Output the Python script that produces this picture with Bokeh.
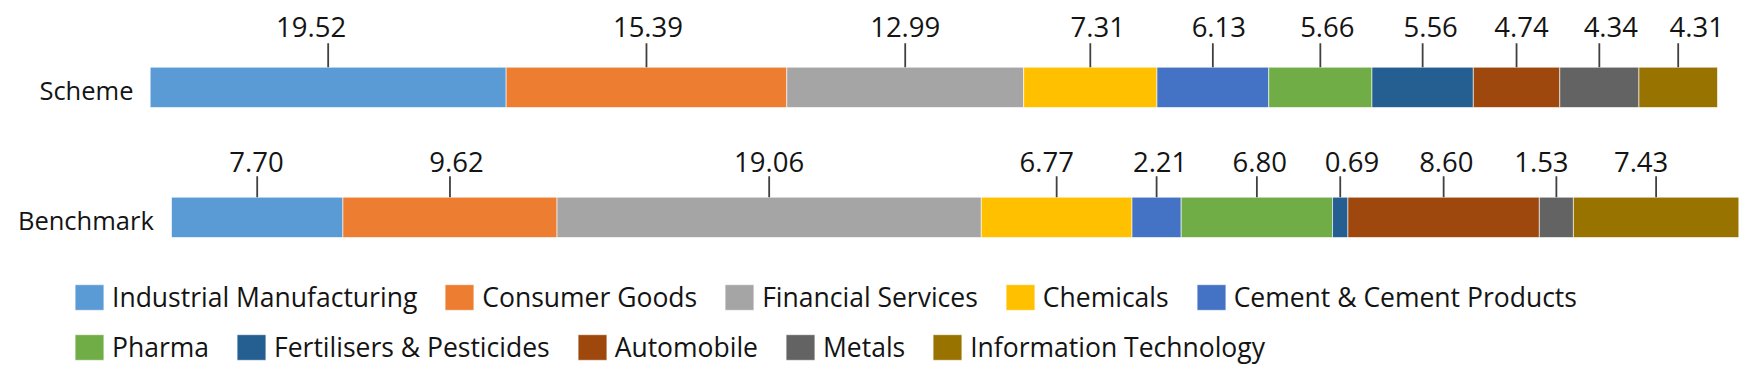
from bokeh.plotting import figure
from bokeh.models import ColumnDataSource, Range1d, Legend, LegendItem
from bokeh.core.properties import value
from bokeh.embed import file_html
from bokeh.resources import INLINE

# ---------------- data ----------------
sectors = ["Industrial Manufacturing", "Consumer Goods", "Financial Services", "Chemicals",
           "Cement & Cement Products", "Pharma", "Fertilisers & Pesticides", "Automobile",
           "Metals", "Information Technology"]
scheme_values = [19.52, 15.39, 12.99, 7.31, 6.13, 5.66, 5.56, 4.74, 4.34, 4.31]
benchmark_values = [7.70, 9.62, 19.06, 6.77, 2.21, 6.80, 0.69, 8.60, 1.53, 7.43]
groups = ["Scheme", "Benchmark"]
colors = ["#5B9BD5", "#ED7D31", "#A5A5A5", "#FFC000", "#4472C4",
          "#70AD47", "#255E91", "#9E480E", "#636363", "#997300"]

# ---------------- layout / style constants (pixels) ----------------
FONT = "Open Sans"
TXT = "#141414"
FIG_W, FIG_H = 1754, 367
ROW_PX = 130.0            # distance between the two bar centres
TOP_CENTER = 86.85        # first bar centre, from the top
BAR_PX = 40.3
BAR_W = 1567.3
BAR_LEFT = {"Scheme": 149.7, "Benchmark": 171.0}
LABEL_RISE = {"Scheme": 60.5, "Benchmark": 55.0}
LEADER_TOP = {"Scheme": 44.0, "Benchmark": 41.0}
NAME_GAP = {"Scheme": 16.7, "Benchmark": 17.7}
NAME_DROP = 3.0
LABEL_NUDGE = {"Scheme": [-17, 1.5, 0, 7.5, 6, 7, 8, 5, 11.5, 18.5],
               "Benchmark": [-0.7, 6.6, 0, -10, 3.5, 2.8, 11.7, 2.7, -15, -15]}
# legend: Bokeh insets box swatches by 10% on each side -> visible ~29x26
GW, GH = 36, 32
INSET_X = round(0.1 * GW)
LEGEND_ROWS = [(0, 5, 315), (5, 10, 365)]   # (first, last, bottom edge from top)
LEGEND_X = 75 - INSET_X

values = {"Scheme": scheme_values, "Benchmark": benchmark_values}
ypos = {g: float(len(groups) - 1 - i) for i, g in enumerate(groups)}


def x_range_for(g):
    unit = BAR_W / 100.0
    start = -BAR_LEFT[g] / unit
    return Range1d(start, start + FIG_W / unit)


y_top = ypos[groups[0]] + TOP_CENTER / ROW_PX
p = figure(width=FIG_W, height=FIG_H, output_backend="svg", toolbar_location=None,
           x_range=x_range_for("Scheme"),
           y_range=Range1d(y_top - FIG_H / ROW_PX, y_top),
           x_axis_location=None, y_axis_location=None, min_border=0)
p.outline_line_color = None
p.grid.visible = False
p.extra_x_ranges = {"Benchmark": x_range_for("Benchmark")}

renderers = {}
for g in groups:
    vals = values[g]
    total = sum(vals)
    left, right, mid = [], [], []
    acc = 0.0
    for v in vals:
        l = acc / total * 100
        acc += v
        r = acc / total * 100
        left.append(l)
        right.append(r)
        mid.append((l + r) / 2)
    yc = ypos[g]
    half = BAR_PX / 2 / ROW_PX
    src = ColumnDataSource(dict(
        y=[yc] * len(vals), ytop=[yc + half] * len(vals),
        ylead=[yc + LEADER_TOP[g] / ROW_PX] * len(vals),
        left=left, right=right, mid=mid, color=colors,
        label=["%.2f" % v for v in vals], sector=sectors, nudge=LABEL_NUDGE[g]))
    xr = "default" if g == "Scheme" else "Benchmark"
    r = p.hbar(y="y", left="left", right="right", height=BAR_PX / ROW_PX, source=src,
               fill_color="color", line_color="white", line_width=0.6, x_range_name=xr)
    renderers[g] = r
    p.segment(x0="mid", x1="mid", y0="ytop", y1="ylead", source=src,
              line_color="#404040", line_width=1.8, x_range_name=xr)
    p.text(x="mid", y="y", text="label", source=src, x_offset="nudge",
           y_offset=-LABEL_RISE[g], text_align="center", text_baseline="alphabetic",
           text_font=value(FONT), text_font_size="27.5px", text_color=TXT, x_range_name=xr)
    nsrc = ColumnDataSource(dict(x=[0], y=[yc], t=[g]))
    p.text(x="x", y="y", text="t", source=nsrc, x_offset=-NAME_GAP[g], y_offset=NAME_DROP,
           text_align="right", text_baseline="alphabetic",
           text_font=value(FONT), text_font_size="25.5px", text_color=TXT, x_range_name=xr)

rs = renderers["Scheme"]
for a, b, bottom in LEGEND_ROWS:
    leg = Legend(items=[LegendItem(label=sectors[i], renderers=[rs], index=i) for i in range(a, b)],
                 orientation="horizontal", location=(LEGEND_X, FIG_H - bottom),
                 glyph_width=GW, glyph_height=GH,
                 label_standoff=9 - INSET_X, spacing=28 - INSET_X,
                 padding=0, margin=0, border_line_color=None, background_fill_alpha=0,
                 label_text_font=FONT, label_text_font_size="26.5px", label_text_color=TXT)
    p.add_layout(leg)

open("out.html", "w").write(file_html(p, INLINE))
